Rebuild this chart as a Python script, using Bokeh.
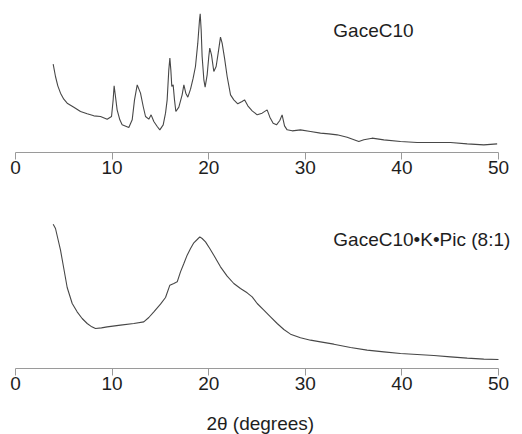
from bokeh.plotting import figure
from bokeh.layouts import column
from bokeh.models import Range1d, FixedTicker, Label
from bokeh.embed import file_html
from bokeh.resources import INLINE

# --- data (intensity in arbitrary units) ---
top_label = "GaceC10"
bottom_label = "GaceC10\u2022K\u2022Pic (8:1)"
x_label = "2\u03b8 (degrees)"
tick_values = [0, 10, 20, 30, 40, 50]

top_2theta = [3.90, 4.14, 4.38, 4.66, 5.00, 5.35, 6.04, 6.73, 7.42, 8.11, 8.80, 9.49, 9.94,
              10.11, 10.21, 10.35, 10.52, 10.80, 11.04, 11.73, 12.08, 12.32, 12.60, 12.94,
              13.22, 13.46, 13.80, 14.04, 14.32, 14.67, 14.94, 15.29, 15.53, 15.70, 15.87,
              15.98, 16.08, 16.18, 16.32, 16.46, 16.60, 16.91, 17.25, 17.43, 17.63, 17.84,
              18.12, 18.39, 18.63, 18.87, 19.05, 19.12, 19.22, 19.32, 19.50, 19.63, 19.84,
              20.01, 20.11, 20.29, 20.53, 20.77, 20.98, 21.22, 21.39, 21.64, 21.91, 22.26,
              22.60, 23.01, 23.46, 23.71, 24.05, 24.50, 25.02, 25.53, 26.05, 26.33, 26.67,
              27.02, 27.36, 27.60, 27.85, 28.12, 28.64, 29.50, 30.54, 31.57, 32.44, 33.30,
              34.33, 35.54, 36.06, 36.92, 38.13, 39.86, 41.58, 43.31, 45.03, 46.76, 48.48,
              49.86]
top_intensity = [265, 228, 200, 178, 160, 148, 136, 123, 116, 110, 108, 100, 108,
                 158, 200, 168, 128, 98, 83, 75, 98, 158, 203, 178,
                 138, 108, 100, 113, 93, 78, 68, 83, 118, 158, 248,
                 283, 248, 198, 203, 158, 123, 136, 173, 203, 178, 166,
                 190, 223, 258, 328, 398, 416, 368, 288, 218, 196, 233,
                 288, 313, 293, 243, 258, 298, 346, 328, 283, 228, 173,
                 158, 146, 153, 158, 140, 125, 113, 118, 128, 106, 88,
                 83, 96, 113, 80, 68, 65, 68, 63, 58, 56, 53,
                 46, 33, 38, 43, 38, 33, 30, 30, 30, 26, 23,
                 26]

bottom_2theta = [3.90, 4.14, 4.38, 4.66, 5.00, 5.35, 5.87, 6.38, 6.90, 7.42, 7.90, 8.28,
                 8.90, 9.49, 10.87, 12.25, 13.28, 13.80, 14.32, 15.01, 15.53, 15.98, 16.39,
                 16.74, 17.08, 17.43, 17.77, 18.12, 18.46, 18.81, 19.08, 19.32, 19.67, 20.11,
                 20.53, 21.22, 21.91, 22.60, 23.29, 23.98, 24.50, 25.02, 25.71, 26.40,
                 27.09, 27.78, 28.47, 29.50, 30.54, 31.57, 32.95, 34.68, 36.40, 38.13,
                 39.86, 41.58, 43.31, 45.03, 46.76, 48.48, 50.00]
bottom_intensity = [433, 420, 390, 355, 300, 243, 195, 170, 150, 135, 125, 120,
                    122, 125, 130, 135, 140, 153, 170, 193, 213, 250, 255,
                    260, 290, 315, 340, 360, 377, 387, 395, 390, 380, 360,
                    340, 305, 277, 255, 240, 227, 215, 195, 175, 155,
                    135, 117, 103, 92, 85, 80, 73, 63, 55, 50,
                    45, 42, 39, 35, 31, 28, 27]

FONT = "Liberation Sans"
LINE = "#474747"
AXIS = "#9a9a9a"
TEXT = "#1e1e1e"
X_END = 50 * 507 / 483  # frame runs to the right edge; axis itself stops at 50


def make_panel(xs, ys, label, label_y, height, y_end, border_top, border_bottom):
    p = figure(width=522, height=height, output_backend="svg", toolbar_location=None,
               x_range=Range1d(0, X_END), y_range=Range1d(0, y_end),
               min_border_left=15, min_border_right=0,
               min_border_top=border_top, min_border_bottom=border_bottom)
    p.outline_line_color = None
    p.grid.visible = False
    p.yaxis.visible = False
    p.background_fill_color = "white"
    p.border_fill_color = "white"
    p.line(xs, ys, line_color=LINE, line_width=1.1)
    p.add_layout(Label(x=32.9, y=label_y, text=label, text_font=FONT,
                       text_font_size="19px", text_color=TEXT,
                       text_baseline="alphabetic", text_align="left"))
    ax = p.xaxis[0]
    ax.bounds = (0, 50)
    ax.ticker = FixedTicker(ticks=tick_values)
    ax.axis_line_color = AXIS
    ax.major_tick_line_color = AXIS
    ax.major_tick_out = 7
    ax.major_tick_in = 0
    ax.minor_tick_line_color = None
    ax.major_label_text_font = FONT
    ax.major_label_text_font_size = "19px"
    ax.major_label_text_color = TEXT
    ax.major_label_standoff = 1
    return p


p1 = make_panel(top_2theta, top_intensity, top_label, 366, 190, 441, 5, 38)
p2 = make_panel(bottom_2theta, bottom_intensity, bottom_label, 387, 204, 459, 25, 26)

# strip holding the x-axis title
p3 = figure(width=522, height=40, output_backend="svg", toolbar_location=None,
            x_range=Range1d(0, 522), y_range=Range1d(0, 40),
            min_border_left=0, min_border_right=0, min_border_top=0, min_border_bottom=0)
p3.axis.visible = False
p3.grid.visible = False
p3.outline_line_color = None
p3.border_fill_color = "white"
p3.add_layout(Label(x=252, y=11, text=x_label, text_font=FONT, text_font_size="19px",
                    text_color=TEXT, text_baseline="middle", text_align="center"))

layout = column(p1, p2, p3, spacing=0)
open("out.html", "w").write(file_html(layout, INLINE))
